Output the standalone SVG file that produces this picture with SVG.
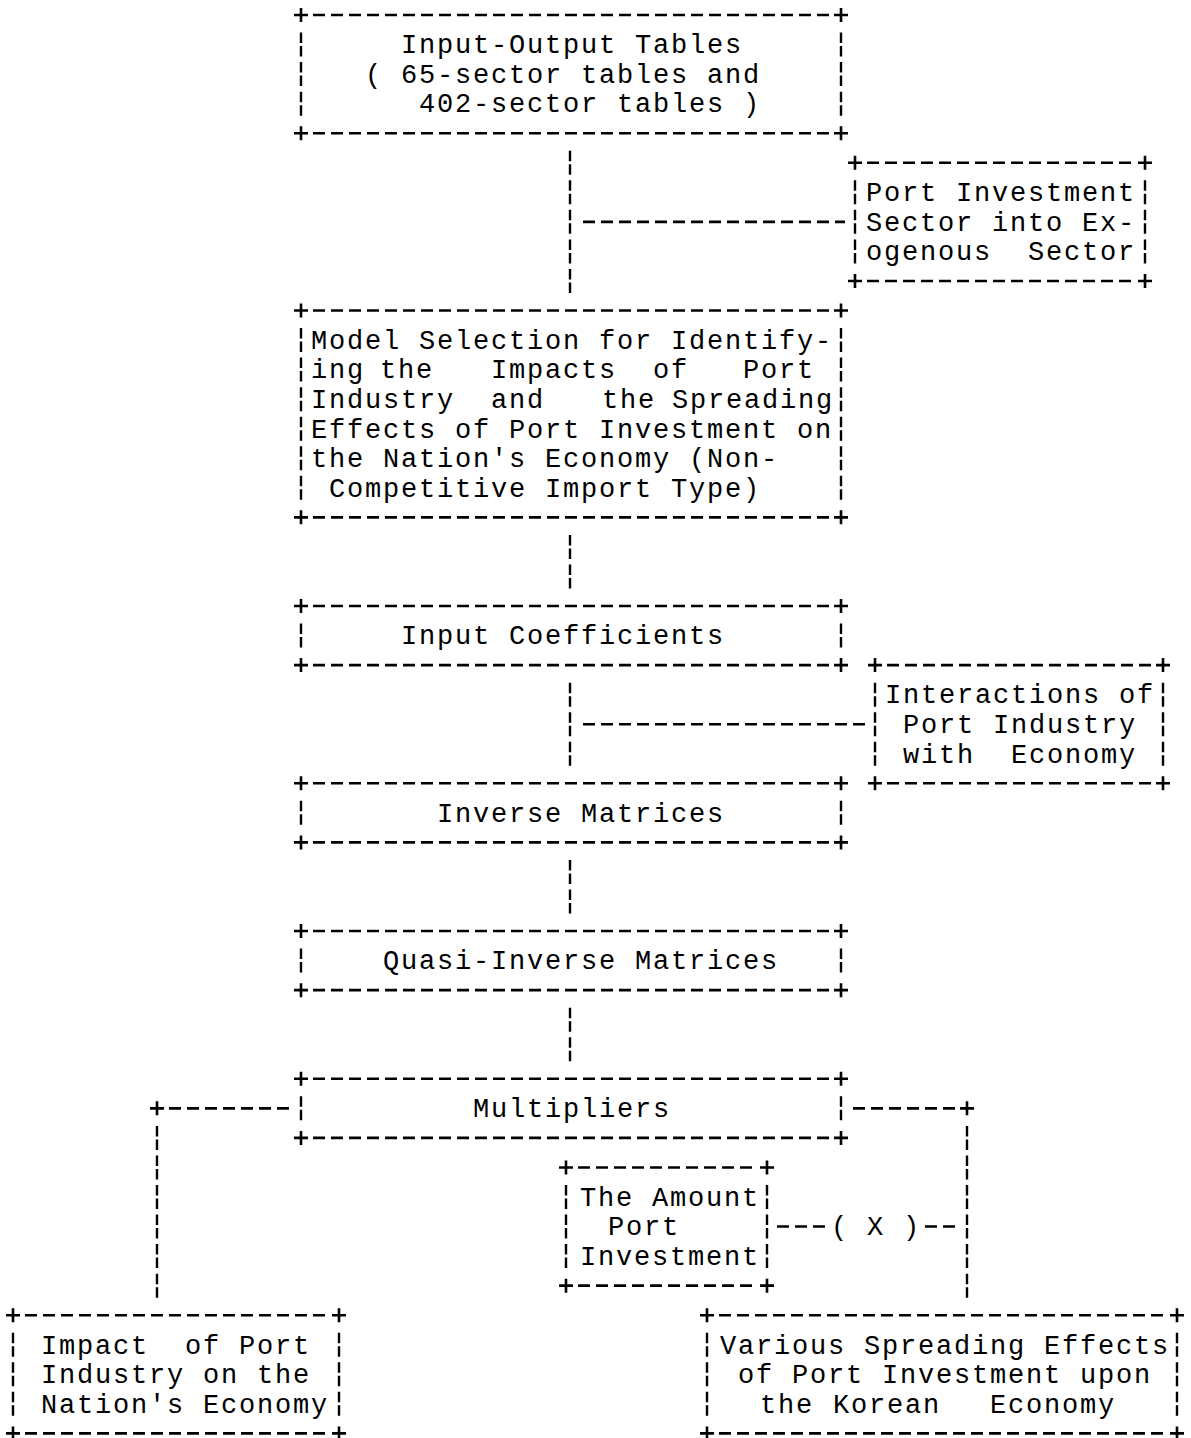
<svg xmlns="http://www.w3.org/2000/svg" width="1191" height="1438" viewBox="0 0 1191 1438">
<style>
.t{font-family:"Liberation Mono","Courier New",monospace;font-size:27px;letter-spacing:1.8px;fill:#000}
.h{stroke:#000;stroke-width:2.6;stroke-dasharray:12 6;fill:none}
.v{stroke:#000;stroke-width:2.4;stroke-dasharray:10.5 3 10.5 5.55;fill:none}
.p{stroke:#000;stroke-width:2.6;fill:none}
</style>
<rect width="1191" height="1438" fill="#fff"/>

<g id="node-io-tables">
<path class="p" d="M294 15h14M301 8v14M834 15h14M841 8v14M294 133.2h14M301 126.2v14M834 133.2h14M841 126.2v14"/>
<path class="h" d="M313 15H829M313 133.2H829"/>
<path class="v" d="M301 32.55V115.65M841 32.55V115.65"/>
<text class="t" x="401" y="53.35">Input-Output Tables</text>
<text class="t" x="365" y="82.9">( 65-sector tables and</text>
<text class="t" x="419" y="112.45">402-sector tables )</text>
</g>

<g id="node-port-investment-sector">
<path class="p" d="M848 162.75h14M855 155.75v14M1138 162.75h14M1145 155.75v14M848 280.95h14M855 273.95v14M1138 280.95h14M1145 273.95v14"/>
<path class="h" d="M867 162.75H1133M867 280.95H1133"/>
<path class="v" d="M855 180.3V263.4M1145 180.3V263.4"/>
<text class="t" x="866" y="201.1">Port Investment</text>
<text class="t" x="866" y="230.65">Sector into Ex-</text>
<text class="t" y="260.2"><tspan x="866">ogenous</tspan><tspan x="1028">Sector</tspan></text>
</g>

<g id="node-model-selection">
<path class="p" d="M294 310.5h14M301 303.5v14M834 310.5h14M841 303.5v14M294 517.35h14M301 510.35v14M834 517.35h14M841 510.35v14"/>
<path class="h" d="M313 310.5H829M313 517.35H829"/>
<path class="v" d="M301 328.05V499.8M841 328.05V499.8"/>
<text class="t" x="311" y="348.85">Model Selection for Identify-</text>
<text class="t" y="378.4"><tspan x="311">ing</tspan><tspan x="380">the</tspan><tspan x="491">Impacts</tspan><tspan x="653">of</tspan><tspan x="743">Port</tspan></text>
<text class="t" y="407.95"><tspan x="311">Industry</tspan><tspan x="491">and</tspan><tspan x="602">the</tspan><tspan x="672">Spreading</tspan></text>
<text class="t" x="311" y="437.5">Effects of Port Investment on</text>
<text class="t" x="311" y="467.05">the Nation's Economy (Non-</text>
<text class="t" x="329" y="496.6">Competitive Import Type)</text>
</g>

<g id="node-input-coefficients">
<path class="p" d="M294 606h14M301 599v14M834 606h14M841 599v14M294 665.1h14M301 658.1v14M834 665.1h14M841 658.1v14"/>
<path class="h" d="M313 606H829M313 665.1H829"/>
<path class="v" d="M301 623.55V647.55M841 623.55V647.55"/>
<text class="t" x="401" y="644.35">Input Coefficients</text>
</g>

<g id="node-interactions">
<path class="p" d="M868 665.1h14M875 658.1v14M1156 665.1h14M1163 658.1v14M868 783.3h14M875 776.3v14M1156 783.3h14M1163 776.3v14"/>
<path class="h" d="M887 665.1H1151M887 783.3H1151"/>
<path class="v" d="M875 682.65V765.75M1163 682.65V765.75"/>
<text class="t" x="885" y="703.45">Interactions of</text>
<text class="t" x="903" y="733">Port Industry</text>
<text class="t" y="762.55"><tspan x="903">with</tspan><tspan x="1011">Economy</tspan></text>
</g>

<g id="node-inverse-matrices">
<path class="p" d="M294 783.3h14M301 776.3v14M834 783.3h14M841 776.3v14M294 842.4h14M301 835.4v14M834 842.4h14M841 835.4v14"/>
<path class="h" d="M313 783.3H829M313 842.4H829"/>
<path class="v" d="M301 800.85V824.85M841 800.85V824.85"/>
<text class="t" x="437" y="821.65">Inverse Matrices</text>
</g>

<g id="node-quasi-inverse">
<path class="p" d="M294 931.05h14M301 924.05v14M834 931.05h14M841 924.05v14M294 990.15h14M301 983.15v14M834 990.15h14M841 983.15v14"/>
<path class="h" d="M313 931.05H829M313 990.15H829"/>
<path class="v" d="M301 948.6V972.6M841 948.6V972.6"/>
<text class="t" x="383" y="969.4">Quasi-Inverse Matrices</text>
</g>

<g id="node-multipliers">
<path class="p" d="M294 1078.8h14M301 1071.8v14M834 1078.8h14M841 1071.8v14M294 1137.9h14M301 1130.9v14M834 1137.9h14M841 1130.9v14"/>
<path class="h" d="M313 1078.8H829M313 1137.9H829"/>
<path class="v" d="M301 1096.35V1120.35M841 1096.35V1120.35"/>
<text class="t" x="473" y="1117.15">Multipliers</text>
</g>

<g id="node-amount-port-investment">
<path class="p" d="M559 1167.45h14M566 1160.45v14M760 1167.45h14M767 1160.45v14M559 1285.65h14M566 1278.65v14M760 1285.65h14M767 1278.65v14"/>
<path class="h" d="M578 1167.45H755M578 1285.65H755"/>
<path class="v" d="M566 1185V1268.1M767 1185V1268.1"/>
<text class="t" x="580" y="1205.8">The Amount</text>
<text class="t" x="608" y="1235.35">Port</text>
<text class="t" x="580" y="1264.9">Investment</text>
</g>

<g id="node-impact-port-industry">
<path class="p" d="M6 1315.2h14M13 1308.2v14M332 1315.2h14M339 1308.2v14M6 1433.4h14M13 1426.4v14M332 1433.4h14M339 1426.4v14"/>
<path class="h" d="M25 1315.2H327M25 1433.4H327"/>
<path class="v" d="M13 1332.75V1415.85M339 1332.75V1415.85"/>
<text class="t" y="1353.55"><tspan x="41">Impact</tspan><tspan x="185">of Port</tspan></text>
<text class="t" x="41" y="1383.1">Industry on the</text>
<text class="t" x="41" y="1412.65">Nation's Economy</text>
</g>

<g id="node-spreading-effects">
<path class="p" d="M700 1315.2h14M707 1308.2v14M1170 1315.2h14M1177 1308.2v14M700 1433.4h14M707 1426.4v14M1170 1433.4h14M1177 1426.4v14"/>
<path class="h" d="M719 1315.2H1165M719 1433.4H1165"/>
<path class="v" d="M707 1332.75V1415.85M1177 1332.75V1415.85"/>
<text class="t" x="720" y="1353.55">Various Spreading Effects</text>
<text class="t" x="738" y="1383.1">of Port Investment upon</text>
<text class="t" y="1412.65"><tspan x="760">the</tspan><tspan x="833">Korean</tspan><tspan x="990">Economy</tspan></text>
</g>

<g id="connectors">
<path class="v" d="M570 150.75V292.95"/>
<path class="h" d="M583 221.85H845"/>
<path class="v" d="M570 534.9V588.45"/>
<path class="v" d="M570 682.65V765.75"/>
<path class="h" d="M583 724.2H865"/>
<path class="v" d="M570 859.95V913.5"/>
<path class="v" d="M570 1007.7V1061.25"/>
<path class="p" d="M150 1108.35h14M157 1101.35v14"/>
<path class="h" d="M169 1108.35H289"/>
<path class="v" d="M157 1125.9V1297.65"/>
<path class="h" d="M853 1108.35H955"/>
<path class="p" d="M960 1108.35h14M967 1101.35v14"/>
<path class="v" d="M967 1125.9V1297.65"/>
<path class="h" d="M777 1226.55H825"/>
<text class="t" x="831" y="1235.35">( X )</text>
<path class="h" d="M925 1226.55H955"/>
</g>
</svg>
